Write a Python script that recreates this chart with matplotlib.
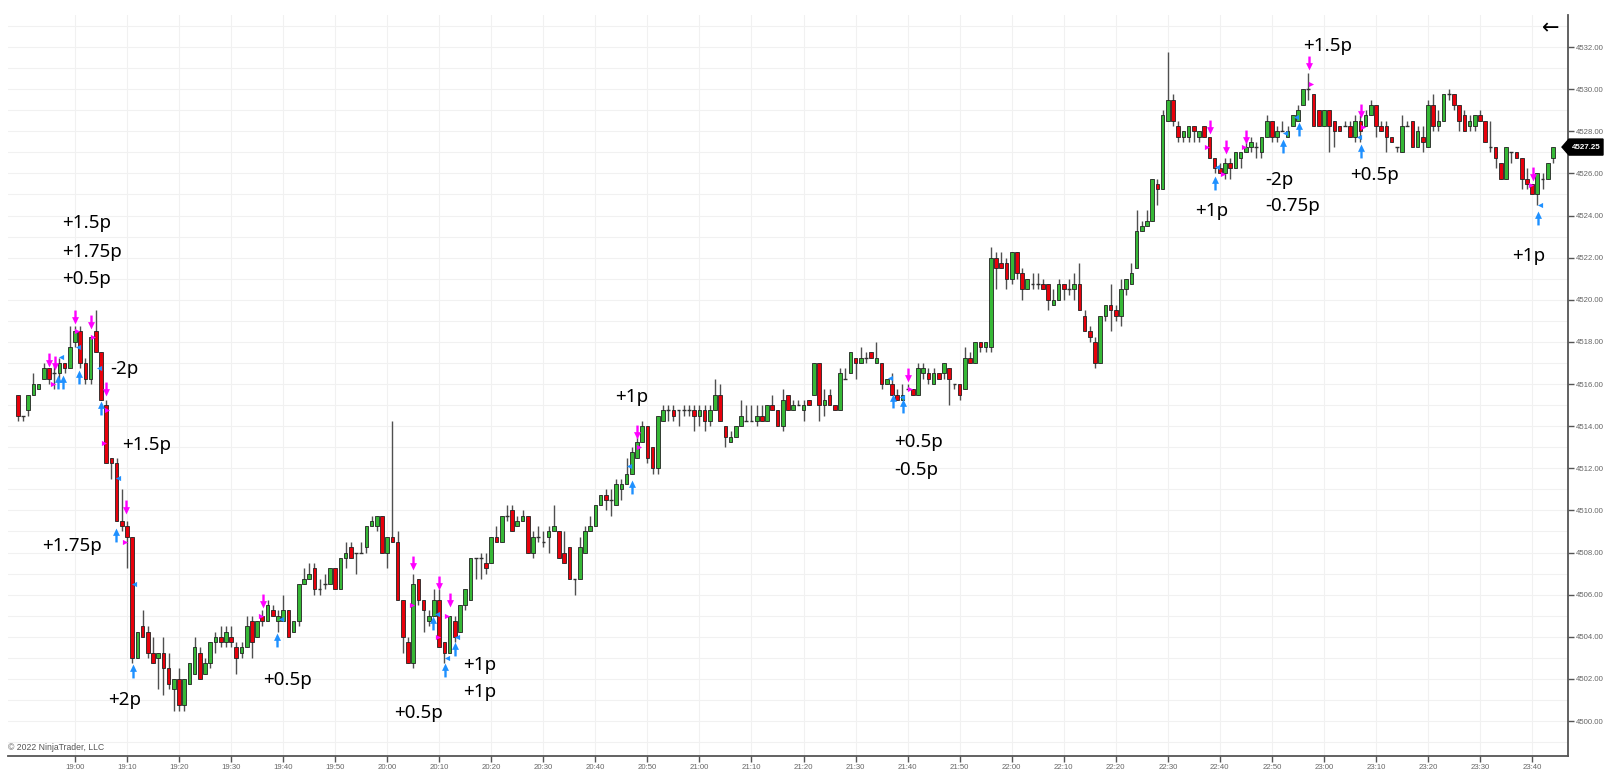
import matplotlib
matplotlib.use("Agg")
import matplotlib.pyplot as plt
import numpy as np
from matplotlib.path import Path
from matplotlib.patches import Polygon

# 1-minute bars, minutes relative to 19:00 (first bar 18:49, last 23:44)
minutes = np.arange(-11, 285)

opens = [
    4515.5, 4514.5, 4514.75, 4515.5, 4515.75, 4516.25, 4516.75, 4516.5, 4516.5, 4517.0,
    4516.75, 4518.0, 4518.5, 4517.0, 4516.25, 4518.5, 4517.5, 4515.0, 4512.5, 4512.25,
    4509.5, 4509.25, 4508.75, 4503.0, 4504.5, 4504.25, 4503.25, 4503.0, 4503.25, 4502.5,
    4501.5, 4502.0, 4500.75, 4501.75, 4502.25, 4503.25, 4502.25, 4502.75, 4503.75, 4504.0,
    4503.75, 4504.0, 4503.5, 4503.25, 4503.5, 4504.75, 4504.0, 4505.0, 4504.75, 4505.25,
    4504.75, 4504.75, 4505.25, 4504.25, 4504.75, 4506.5, 4506.75, 4507.25, 4506.25, 4506.5,
    4506.5, 4507.25, 4506.25, 4507.75, 4508.25, 4508.0, 4508.0, 4508.25, 4509.25, 4509.25,
    4509.75, 4508.0, 4508.75, 4508.5, 4505.75, 4503.75, 4502.75, 4506.75, 4505.75, 4504.75,
    4505.0, 4505.75, 4503.75, 4503.25, 4504.75, 4504.25, 4505.5, 4505.75, 4507.75, 4507.75,
    4507.5, 4507.5, 4508.75, 4508.5, 4509.75, 4510.0, 4509.25, 4509.5, 4509.75, 4508.0,
    4508.75, 4508.5, 4508.75, 4509.0, 4509.0, 4508.0, 4508.25, 4506.75, 4506.75, 4508.0,
    4509.0, 4509.25, 4510.25, 4510.75, 4510.5, 4510.25, 4511.0, 4511.25, 4511.75, 4512.5,
    4513.25, 4514.0, 4513.0, 4512.0, 4514.25, 4514.75, 4514.75, 4514.75, 4514.75, 4514.75,
    4514.75, 4514.5, 4514.75, 4514.25, 4514.75, 4515.5, 4514.0, 4513.25, 4513.5, 4514.0,
    4514.25, 4514.25, 4514.25, 4514.5, 4514.25, 4515.0, 4514.75, 4514.0, 4515.5, 4514.75,
    4515.0, 4514.75, 4515.25, 4515.5, 4517.0, 4515.0, 4515.5, 4515.0, 4514.75, 4516.25,
    4516.5, 4517.25, 4517.0, 4517.25, 4517.5, 4517.0, 4517.0, 4516.0, 4516.0, 4515.5,
    4515.25, 4515.75, 4515.75, 4515.5, 4516.5, 4516.5, 4516.0, 4516.5, 4516.5, 4516.75,
    4516.0, 4516.0, 4515.75, 4517.25, 4517.0, 4518.0, 4517.75, 4517.75, 4522.0, 4521.75,
    4521.75, 4521.0, 4522.25, 4521.25, 4520.5, 4520.75, 4520.75, 4520.75, 4520.75, 4519.75,
    4520.0, 4520.75, 4520.5, 4520.5, 4520.75, 4519.25, 4518.5, 4518.0, 4517.0, 4519.25,
    4519.75, 4519.5, 4519.25, 4520.5, 4520.75, 4521.5, 4523.25, 4523.5, 4523.75, 4525.5,
    4525.25, 4528.5, 4529.5, 4528.25, 4527.75, 4527.75, 4528.25, 4527.75, 4528.25, 4527.75,
    4526.75, 4526.25, 4526.0, 4526.5, 4526.25, 4526.75, 4527.0, 4527.25, 4527.25, 4527.0,
    4527.75, 4528.5, 4527.75, 4528.0, 4527.75, 4528.25, 4528.5, 4529.25, 4530.0, 4529.75,
    4529.0, 4528.25, 4529.0, 4528.5, 4528.25, 4528.25, 4528.25, 4527.75, 4528.5, 4528.25,
    4528.75, 4529.25, 4528.25, 4528.25, 4527.75, 4527.25, 4527.0, 4528.25, 4528.5, 4527.25,
    4527.75, 4527.25, 4529.25, 4528.25, 4528.5, 4529.75, 4529.75, 4529.25, 4528.75, 4528.25,
    4528.25, 4528.75, 4528.5, 4527.25, 4527.25, 4526.5, 4525.75, 4527.0, 4527.0, 4526.75,
    4525.75, 4525.5, 4525.0, 4525.75, 4525.75, 4526.75,
]
highs = [
    4515.5, 4514.5, 4515.5, 4516.5, 4516.0, 4517.0, 4516.75, 4517.0, 4517.25, 4517.0,
    4518.75, 4518.75, 4518.75, 4517.25, 4518.25, 4519.5, 4517.5, 4515.25, 4512.5, 4512.5,
    4511.0, 4509.5, 4508.75, 4504.25, 4505.25, 4504.5, 4504.0, 4503.25, 4504.0, 4503.25,
    4502.0, 4502.5, 4502.0, 4502.75, 4504.0, 4503.5, 4503.0, 4503.75, 4504.25, 4504.5,
    4504.5, 4504.5, 4503.75, 4503.75, 4505.0, 4505.0, 4504.75, 4505.25, 4505.75, 4505.5,
    4505.25, 4506.0, 4505.25, 4504.75, 4506.5, 4507.25, 4507.5, 4507.5, 4506.75, 4507.0,
    4507.25, 4507.25, 4507.75, 4508.5, 4508.5, 4508.0, 4508.5, 4509.25, 4509.75, 4509.75,
    4509.75, 4508.75, 4514.25, 4509.0, 4505.75, 4504.0, 4507.0, 4506.75, 4505.75, 4505.25,
    4506.25, 4506.25, 4503.75, 4505.0, 4505.0, 4505.5, 4506.25, 4507.75, 4507.75, 4508.0,
    4508.0, 4508.75, 4509.25, 4509.75, 4510.25, 4510.25, 4509.75, 4510.0, 4509.75, 4509.0,
    4509.25, 4509.0, 4509.25, 4510.25, 4509.0, 4509.0, 4508.25, 4506.75, 4508.75, 4509.25,
    4509.75, 4510.25, 4510.75, 4511.0, 4511.0, 4511.5, 4511.5, 4512.5, 4513.0, 4513.5,
    4514.25, 4514.0, 4513.0, 4514.5, 4515.0, 4515.0, 4515.0, 4514.75, 4515.0, 4515.0,
    4515.0, 4515.0, 4515.0, 4515.0, 4516.25, 4516.0, 4514.0, 4513.75, 4514.0, 4515.25,
    4515.0, 4515.0, 4515.0, 4515.0, 4515.0, 4515.5, 4514.75, 4515.75, 4515.5, 4515.25,
    4515.25, 4515.25, 4515.25, 4517.0, 4517.0, 4515.75, 4515.75, 4515.0, 4516.75, 4516.75,
    4517.5, 4517.25, 4517.75, 4517.5, 4517.5, 4518.0, 4517.0, 4516.25, 4516.5, 4515.75,
    4516.0, 4516.0, 4515.75, 4517.0, 4517.0, 4516.75, 4516.75, 4516.5, 4517.0, 4516.75,
    4516.0, 4516.0, 4517.75, 4517.5, 4518.0, 4518.0, 4518.0, 4522.5, 4522.25, 4522.25,
    4522.0, 4522.25, 4522.25, 4521.5, 4521.0, 4521.25, 4521.25, 4521.0, 4520.75, 4520.5,
    4521.0, 4520.75, 4521.0, 4521.25, 4521.75, 4519.5, 4518.75, 4518.25, 4519.25, 4519.75,
    4520.75, 4519.75, 4521.0, 4521.0, 4521.75, 4524.25, 4523.75, 4524.25, 4525.75, 4525.75,
    4529.0, 4531.75, 4529.75, 4528.5, 4528.0, 4528.25, 4528.25, 4528.0, 4528.25, 4527.75,
    4526.75, 4526.5, 4526.75, 4526.75, 4527.0, 4527.0, 4527.5, 4527.75, 4527.5, 4527.75,
    4528.75, 4528.5, 4528.25, 4528.5, 4528.25, 4528.75, 4529.25, 4530.0, 4530.75, 4529.75,
    4529.0, 4529.0, 4529.0, 4528.5, 4528.25, 4528.5, 4528.5, 4528.75, 4528.75, 4529.0,
    4529.5, 4529.25, 4528.5, 4528.5, 4527.75, 4527.25, 4528.75, 4528.5, 4528.5, 4528.25,
    4528.25, 4529.5, 4529.75, 4529.0, 4529.75, 4530.0, 4529.75, 4529.25, 4529.0, 4528.75,
    4528.75, 4529.0, 4528.5, 4528.5, 4527.25, 4526.5, 4527.25, 4527.0, 4527.0, 4526.75,
    4526.25, 4525.5, 4526.0, 4526.0, 4526.5, 4527.25,
]
lows = [
    4514.25, 4514.25, 4514.5, 4515.5, 4515.75, 4516.25, 4516.0, 4515.75, 4516.25, 4516.5,
    4516.75, 4517.75, 4516.75, 4516.0, 4516.0, 4517.5, 4515.25, 4512.25, 4511.5, 4509.5,
    4509.0, 4507.25, 4502.75, 4503.0, 4504.0, 4503.0, 4502.75, 4501.5, 4501.25, 4501.5,
    4500.5, 4500.5, 4500.5, 4501.75, 4502.25, 4502.0, 4502.25, 4502.5, 4503.25, 4503.5,
    4503.5, 4503.5, 4502.25, 4503.0, 4503.5, 4503.0, 4504.0, 4504.5, 4504.75, 4505.0,
    4504.25, 4504.75, 4504.0, 4504.25, 4504.5, 4506.5, 4506.75, 4506.0, 4506.0, 4506.25,
    4506.5, 4506.25, 4506.25, 4507.25, 4507.75, 4507.0, 4508.0, 4508.0, 4509.25, 4509.0,
    4508.0, 4507.25, 4508.5, 4505.75, 4503.25, 4502.75, 4502.5, 4505.5, 4504.25, 4504.5,
    4505.0, 4503.5, 4502.75, 4503.25, 4503.75, 4504.25, 4505.25, 4505.75, 4506.75, 4506.75,
    4507.0, 4507.5, 4508.5, 4508.5, 4509.5, 4509.0, 4509.25, 4509.5, 4508.0, 4507.75,
    4508.5, 4508.25, 4508.0, 4509.0, 4507.75, 4507.5, 4506.75, 4506.0, 4506.75, 4508.0,
    4509.0, 4509.25, 4510.25, 4510.0, 4509.75, 4510.25, 4510.5, 4511.25, 4511.75, 4512.5,
    4513.25, 4512.25, 4511.75, 4511.75, 4514.25, 4514.25, 4514.25, 4514.0, 4514.5, 4514.5,
    4513.75, 4514.0, 4513.75, 4514.0, 4514.75, 4514.25, 4513.0, 4513.25, 4513.5, 4514.0,
    4514.25, 4514.25, 4514.0, 4514.25, 4514.25, 4514.75, 4514.0, 4513.75, 4514.75, 4514.75,
    4515.0, 4514.25, 4515.0, 4515.5, 4514.25, 4514.5, 4515.0, 4514.75, 4514.75, 4516.25,
    4516.5, 4516.25, 4517.0, 4517.0, 4517.25, 4517.0, 4515.75, 4516.0, 4515.5, 4515.25,
    4515.25, 4515.75, 4515.5, 4515.5, 4516.25, 4516.0, 4516.0, 4516.25, 4516.25, 4515.0,
    4515.75, 4515.25, 4515.75, 4517.0, 4517.0, 4517.5, 4517.5, 4517.5, 4520.5, 4521.5,
    4520.5, 4520.75, 4521.0, 4520.0, 4520.5, 4520.5, 4520.5, 4520.5, 4519.5, 4519.75,
    4520.0, 4520.0, 4520.25, 4520.0, 4519.5, 4518.5, 4518.0, 4516.75, 4517.0, 4519.0,
    4518.5, 4519.0, 4518.75, 4520.25, 4520.75, 4521.5, 4523.25, 4523.5, 4523.75, 4524.5,
    4525.25, 4528.5, 4528.25, 4527.5, 4527.5, 4527.5, 4527.5, 4527.5, 4527.75, 4526.75,
    4526.0, 4526.0, 4525.75, 4525.75, 4526.25, 4526.25, 4527.0, 4527.0, 4526.75, 4526.75,
    4527.75, 4527.5, 4527.5, 4528.0, 4527.75, 4528.25, 4528.5, 4529.25, 4529.5, 4528.25,
    4528.25, 4528.25, 4527.0, 4527.25, 4528.0, 4528.25, 4527.75, 4527.5, 4527.5, 4528.25,
    4528.75, 4527.75, 4528.0, 4527.0, 4527.5, 4527.0, 4527.0, 4528.25, 4527.25, 4527.25,
    4527.0, 4527.25, 4528.0, 4528.0, 4528.5, 4529.5, 4529.0, 4528.0, 4528.0, 4528.0,
    4528.0, 4528.5, 4527.5, 4527.0, 4526.25, 4525.75, 4525.75, 4526.5, 4526.75, 4525.25,
    4525.25, 4525.0, 4524.5, 4525.25, 4525.75, 4526.5,
]
closes = [
    4514.5, 4514.5, 4515.5, 4516.0, 4516.0, 4516.75, 4516.25, 4516.5, 4517.0, 4516.75,
    4517.75, 4518.5, 4517.0, 4516.25, 4518.25, 4517.5, 4515.25, 4512.25, 4512.25, 4509.5,
    4509.25, 4508.75, 4503.0, 4504.25, 4504.0, 4503.25, 4502.75, 4503.25, 4502.5, 4501.75,
    4502.0, 4500.75, 4502.0, 4502.75, 4503.5, 4502.0, 4502.75, 4503.75, 4504.0, 4503.75,
    4504.25, 4503.75, 4503.0, 4503.5, 4504.5, 4503.75, 4504.75, 4504.75, 4505.5, 4505.0,
    4505.0, 4505.25, 4504.0, 4504.75, 4506.5, 4506.75, 4507.0, 4506.25, 4506.25, 4506.5,
    4507.25, 4506.25, 4507.75, 4508.0, 4507.75, 4508.0, 4508.0, 4509.25, 4509.5, 4509.75,
    4508.0, 4508.75, 4508.5, 4505.75, 4504.0, 4502.75, 4506.5, 4505.75, 4505.25, 4505.0,
    4505.75, 4503.5, 4503.25, 4505.0, 4504.0, 4505.5, 4506.25, 4507.75, 4507.75, 4507.75,
    4507.25, 4508.75, 4508.5, 4509.75, 4509.75, 4509.0, 4509.5, 4509.75, 4508.0, 4508.75,
    4508.75, 4508.5, 4509.0, 4509.25, 4507.75, 4507.5, 4506.75, 4506.75, 4508.25, 4509.0,
    4509.25, 4510.25, 4510.75, 4510.5, 4510.5, 4511.25, 4511.25, 4511.75, 4512.75, 4513.25,
    4514.0, 4512.5, 4512.0, 4514.5, 4514.75, 4514.75, 4514.5, 4514.75, 4514.75, 4514.75,
    4514.5, 4514.75, 4514.25, 4514.75, 4515.5, 4514.25, 4513.5, 4513.5, 4514.0, 4514.5,
    4514.25, 4514.25, 4514.5, 4514.25, 4515.0, 4514.75, 4514.0, 4515.25, 4514.75, 4515.0,
    4515.0, 4515.0, 4515.0, 4517.0, 4515.0, 4515.25, 4515.0, 4514.75, 4516.5, 4516.25,
    4517.5, 4517.0, 4517.25, 4517.25, 4517.25, 4517.25, 4516.0, 4516.25, 4515.5, 4515.25,
    4515.5, 4515.75, 4515.5, 4516.75, 4516.75, 4516.25, 4516.5, 4516.25, 4517.0, 4516.25,
    4516.0, 4515.5, 4517.25, 4517.0, 4518.0, 4517.75, 4518.0, 4522.0, 4521.5, 4521.5,
    4521.0, 4522.25, 4521.25, 4520.5, 4521.0, 4520.75, 4520.75, 4520.5, 4520.0, 4520.0,
    4520.75, 4520.5, 4520.5, 4520.75, 4519.5, 4518.5, 4518.25, 4517.0, 4519.25, 4519.75,
    4519.5, 4519.25, 4520.5, 4521.0, 4521.25, 4523.25, 4523.5, 4523.75, 4525.75, 4525.25,
    4528.75, 4529.5, 4528.5, 4527.75, 4528.0, 4528.25, 4528.0, 4528.0, 4527.75, 4526.75,
    4526.25, 4526.0, 4526.5, 4526.25, 4527.0, 4527.0, 4527.25, 4527.5, 4527.25, 4527.75,
    4528.5, 4527.75, 4528.0, 4528.0, 4528.0, 4528.75, 4529.0, 4530.0, 4530.0, 4528.25,
    4528.25, 4529.0, 4528.25, 4528.0, 4528.0, 4528.25, 4527.75, 4528.5, 4528.0, 4528.75,
    4529.25, 4528.25, 4528.0, 4527.75, 4527.5, 4527.25, 4528.25, 4528.25, 4527.25, 4528.0,
    4527.5, 4529.25, 4528.25, 4528.5, 4529.75, 4529.75, 4529.25, 4528.5, 4528.0, 4528.5,
    4528.75, 4528.5, 4527.5, 4527.25, 4526.75, 4525.75, 4527.25, 4527.0, 4526.75, 4525.75,
    4525.5, 4525.0, 4526.0, 4525.75, 4526.5, 4527.25,
]

# trade markers (minute, price)
entry_short = [(-5.0, 4517.14), (-3.8, 4517.0), (0.0, 4519.2), (3.0, 4518.96), (6.0, 4515.75),
               (9.9, 4510.18), (36.1, 4505.71), (65.0, 4507.5), (70.0, 4506.55), (72.1, 4505.75),
               (108.0, 4513.7), (160.0, 4516.43), (218.1, 4528.22), (221.1, 4527.24),
               (225.1, 4527.71), (237.1, 4531.23), (247.1, 4528.98), (280.1, 4525.97)]
entry_long = [(-3.2, 4516.08), (-2.25, 4516.08), (0.8, 4516.35), (5.0, 4514.84), (7.9, 4508.83),
              (11.1, 4502.39), (38.9, 4503.85), (68.8, 4504.65), (71.1, 4502.4), (73.0, 4503.4),
              (107.0, 4511.1), (157.2, 4515.2), (159.1, 4514.96), (219.1, 4525.56),
              (232.1, 4527.3), (235.2, 4528.1), (247.1, 4527.07), (281.2, 4523.87)]
exit_short = [(-4.3, 4515.99), (0.45, 4518.53), (3.4, 4518.25), (6.2, 4514.77), (5.6, 4513.19),
              (9.6, 4508.51), (35.8, 4505.0), (64.8, 4505.5), (69.8, 4504.0), (71.5, 4505.0),
              (108.4, 4513.0), (160.5, 4515.76), (217.6, 4527.24), (220.6, 4525.97),
              (224.6, 4527.25), (237.6, 4530.25), (247.5, 4528.2), (279.7, 4525.45)]
exit_long = [(-2.7, 4517.27), (0.6, 4517.77), (4.6, 4516.75), (8.3, 4511.52), (11.4, 4506.5),
             (39.5, 4504.84), (69.6, 4505.1), (71.5, 4503.0), (73.4, 4504.0), (106.5, 4512.1),
             (156.7, 4516.29), (159.0, 4515.4), (219.5, 4526.3), (232.5, 4527.9),
             (234.6, 4528.7), (246.8, 4527.75), (281.5, 4524.5)]

# profit notes (minute, price, text)
notes = [(-2.5, 4523.65, "+1.5p"), (-2.5, 4522.27, "+1.75p"), (-2.5, 4520.99, "+0.5p"),
         (6.7, 4516.71, "-2p"), (9.0, 4513.1, "+1.5p"), (-6.3, 4508.3, "+1.75p"),
         (6.3, 4501.0, "+2p"), (36.1, 4501.95, "+0.5p"), (61.3, 4500.38, "+0.5p"),
         (74.6, 4502.66, "+1p"), (74.6, 4501.38, "+1p"), (103.8, 4515.38, "+1p"),
         (157.5, 4513.25, "+0.5p"), (157.5, 4511.92, "-0.5p"), (215.2, 4524.22, "+1p"),
         (228.7, 4525.69, "-2p"), (228.7, 4524.45, "-0.75p"), (236.0, 4532.05, "+1.5p"),
         (245.0, 4525.93, "+0.5p"), (276.1, 4522.08, "+1p")]

tick_minutes = list(range(0, 281, 10))
tick_labels = ["%d:%02d" % (19 + t // 60, t % 60) for t in tick_minutes]
price_ticks = list(range(4500, 4533, 2))
last_price = 4527.25

o = np.array(opens); h = np.array(highs); l = np.array(lows); c = np.array(closes)
x = minutes

fig = plt.figure(figsize=(16.06, 7.77), dpi=100)
ax = fig.add_axes([8 / 1606, 21 / 777, 1560 / 1606, 741 / 777])
ax.set_xlim(-12.87, 286.9)
ax.set_ylim(4498.34, 4533.52)

for p in range(4498, 4534):
    ax.axhline(p, color="#f1f1f1", lw=0.8, zorder=0)
for t in tick_minutes:
    ax.axvline(t, color="#f1f1f1", lw=0.8, zorder=0)

w = 0.7
ax.vlines(x, l, h, color="#505050", lw=1.0, zorder=2)
up = c > o
dn = c < o
eq = c == o
ax.bar(x[up], (c - o)[up], bottom=o[up], width=w, color="#36b836", edgecolor="#222222", lw=0.6, zorder=3)
ax.bar(x[dn], (o - c)[dn], bottom=c[dn], width=w, color="#e8000b", edgecolor="#222222", lw=0.6, zorder=3)
ax.hlines(o[eq], x[eq] - w / 2, x[eq] + w / 2, color="#303030", lw=1.0, zorder=3)

# arrow markers
down_arrow = Path([(-0.17, 1.0), (0.17, 1.0), (0.17, 0.05), (0.5, 0.05), (0.0, -1.0),
                   (-0.5, 0.05), (-0.17, 0.05), (-0.17, 1.0)], closed=True)
up_arrow = Path([(vx, -vy) for vx, vy in down_arrow.vertices], closed=True)

mx, my = zip(*entry_short)
ax.scatter(mx, my, marker=down_arrow, s=100, c="#ff00ff", linewidths=0, zorder=5)
mx, my = zip(*entry_long)
ax.scatter(mx, my, marker=up_arrow, s=100, c="#1e90ff", linewidths=0, zorder=5)
mx, my = zip(*exit_short)
ax.scatter(mx, my, marker=">", s=14, c="#ff00ff", linewidths=0, zorder=5)
mx, my = zip(*exit_long)
ax.scatter(mx, my, marker="<", s=14, c="#1e90ff", linewidths=0, zorder=5)

for nx, ny, s in notes:
    ax.text(nx, ny, s, ha="left", va="center", fontsize=13.5, family="Noto Sans",
            color="black", zorder=6)

# axes styling
for side in ["left", "top"]:
    ax.spines[side].set_visible(False)
for side in ["right", "bottom"]:
    ax.spines[side].set_color("#555555")
    ax.spines[side].set_linewidth(1.3)
ax.yaxis.tick_right()
ax.set_yticks(price_ticks)
ax.set_yticklabels(["%.2f" % p for p in price_ticks])
ax.set_xticks(tick_minutes)
ax.set_xticklabels(tick_labels)
ax.tick_params(axis="both", length=4, width=1, color="#555555", labelcolor="#666666",
               labelsize=5.6, pad=2)
for lab in ax.get_xticklabels() + ax.get_yticklabels():
    lab.set_family("Liberation Sans")

# last price flag
fig.canvas.draw()
disp = ax.transData.transform((0, last_price))
fy = fig.transFigure.inverted().transform(disp)[1]
hh = 8 / 777
flag = Polygon([(1562 / 1606, fy), (1569 / 1606, fy + hh), (1603 / 1606, fy + hh),
                (1603 / 1606, fy - hh), (1569 / 1606, fy - hh)], closed=True,
               transform=fig.transFigure, facecolor="black", edgecolor="black")
fig.patches.append(flag)
fig.text(1586 / 1606, fy, "%.2f" % last_price, color="white", fontsize=5.8, fontweight="bold",
         ha="center", va="center", family="Liberation Sans")

fig.text(1551 / 1606, 1 - 28 / 777, "\u2190", fontsize=15, ha="center", va="center", color="black")
fig.text(8 / 1606, 1 - 747 / 777, "\u00a9 2022 NinjaTrader, LLC", fontsize=6.2, color="#555555",
         ha="left", va="center", family="Liberation Sans")

fig.savefig("out.png", dpi=100, facecolor="white")
